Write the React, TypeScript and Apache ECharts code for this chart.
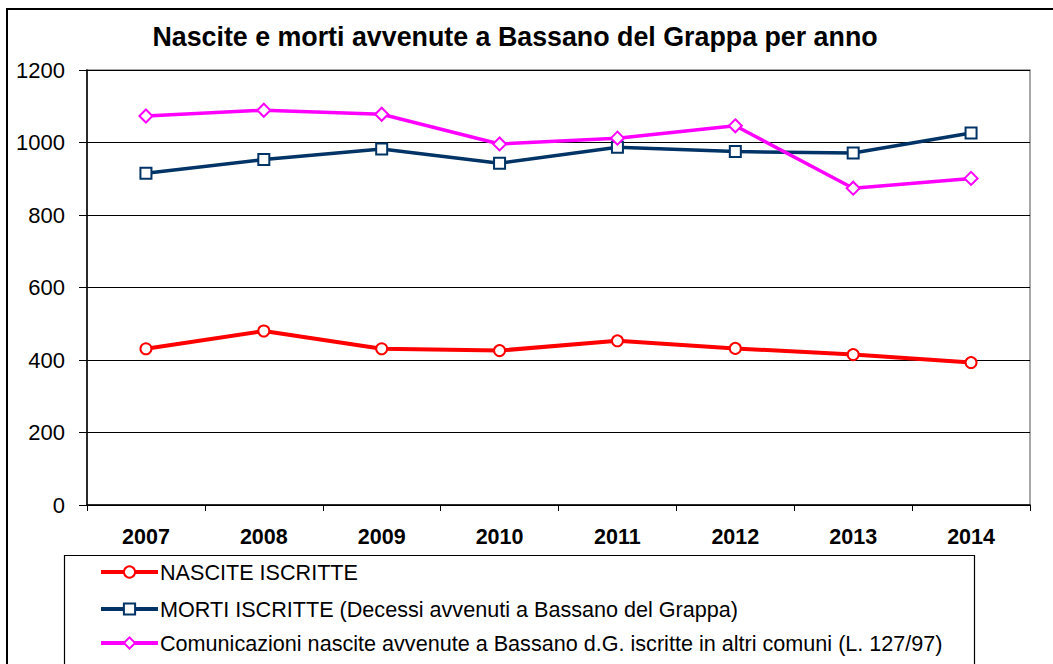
import React, { useEffect, useRef } from "react";
import * as echarts from "echarts";

const years = ["2007", "2008", "2009", "2010", "2011", "2012", "2013", "2014"];
const nascite = [431, 480, 431, 426, 453, 432, 415, 393];
const morti = [915, 953, 982, 943, 987, 975, 971, 1026];
const comunicazioni = [1073, 1089, 1078, 996, 1012, 1046, 874, 901];
const yTicks = [0, 200, 400, 600, 800, 1000, 1200];

const titleText = "Nascite e morti avvenute a Bassano del Grappa per anno";
const nameNascite = "NASCITE ISCRITTE";
const nameMorti = "MORTI ISCRITTE (Decessi avvenuti a Bassano del Grappa)";
const nameCom = "Comunicazioni nascite avvenute a Bassano d.G. iscritte in altri comuni (L. 127/97)";

const FONT = "'Liberation Sans', Arial, sans-serif";

export default function App() {
  const ref = useRef<HTMLDivElement>(null);
  useEffect(() => {
    if (!ref.current) return;
    const chart = echarts.init(ref.current, null, { renderer: "svg" });
    const mk = (name: string, data: number[], color: string, symbol: string, size: number, width: number) => ({
      name,
      type: "line",
      data,
      symbol,
      symbolSize: size,
      showSymbol: true,
      itemStyle: { color: "#fff", borderColor: color, borderWidth: 2 },
      lineStyle: { color, width },
      emphasis: { disabled: true },
      z: 3,
    });
    const leg = (name: string, cy: number) => ({
      orient: "vertical",
      left: 99,
      top: cy - 11,
      itemWidth: 57,
      itemHeight: 14,
      itemGap: 0,
      selectedMode: false,
      padding: 0,
      lineStyle: { width: 4 },
      textStyle: { fontFamily: FONT, fontSize: 21.6, color: "#000", lineHeight: 22, padding: [0, 0, 0, -3] },
      data: [name],
    });
    chart.setOption({
      animation: false,
      backgroundColor: "#fff",
      textStyle: { fontFamily: FONT },
      title: {
        text: titleText,
        left: 510,
        textAlign: "center",
        top: 18,
        textStyle: { fontFamily: FONT, fontSize: 26.8, fontWeight: "bold", color: "#000" },
      },
      grid: {
        left: 87,
        right: 23,
        top: 70,
        bottom: 159,
        show: true,
        borderColor: "#8c8c8c",
        borderWidth: 1.5,
        backgroundColor: "transparent",
      },
      xAxis: {
        type: "category",
        data: years,
        boundaryGap: true,
        axisLine: { lineStyle: { color: "#000", width: 1.5 } },
        axisTick: { show: true, length: 6, lineStyle: { color: "#000" } },
        axisLabel: { fontFamily: FONT, fontSize: 21.5, fontWeight: "bold", color: "#000", margin: 21 },
        splitLine: { show: false },
      },
      yAxis: {
        type: "value",
        min: yTicks[0],
        max: yTicks[yTicks.length - 1],
        interval: 200,
        axisLine: { show: true, lineStyle: { color: "#000", width: 1.5 } },
        axisTick: { show: true, length: 8, lineStyle: { color: "#000" } },
        axisLabel: {
          fontFamily: FONT,
          fontSize: 22,
          color: "#000",
          margin: 22,
          formatter: (v: number) => String(v),
        },
        splitLine: { show: true, lineStyle: { color: "#000", width: 1 } },
      },
      legend: [leg(nameNascite, 572), leg(nameMorti, 609), leg(nameCom, 643)],
      graphic: [
        {
          type: "rect",
          shape: { x: 7, y: 9, width: 1100, height: 700 },
          style: { fill: "none", stroke: "#000", lineWidth: 2 },
          silent: true,
          z: -1,
        },
        {
          type: "rect",
          shape: { x: 64.5, y: 555.5, width: 910, height: 200 },
          style: { fill: "none", stroke: "#000", lineWidth: 1.2 },
          silent: true,
        },
      ],
      series: [
        mk(nameNascite, nascite, "#ff0000", "circle", 11, 4),
        mk(nameMorti, morti, "#003366", "rect", 11, 3.5),
        mk(nameCom, comunicazioni, "#ff00ff", "diamond", 13, 3.5),
      ],
    });
    return () => chart.dispose();
  }, []);
  return (
    <div
      ref={ref}
      style={{ position: "absolute", left: 0, top: 0, width: 1053, height: 664 }}
    />
  );
}
